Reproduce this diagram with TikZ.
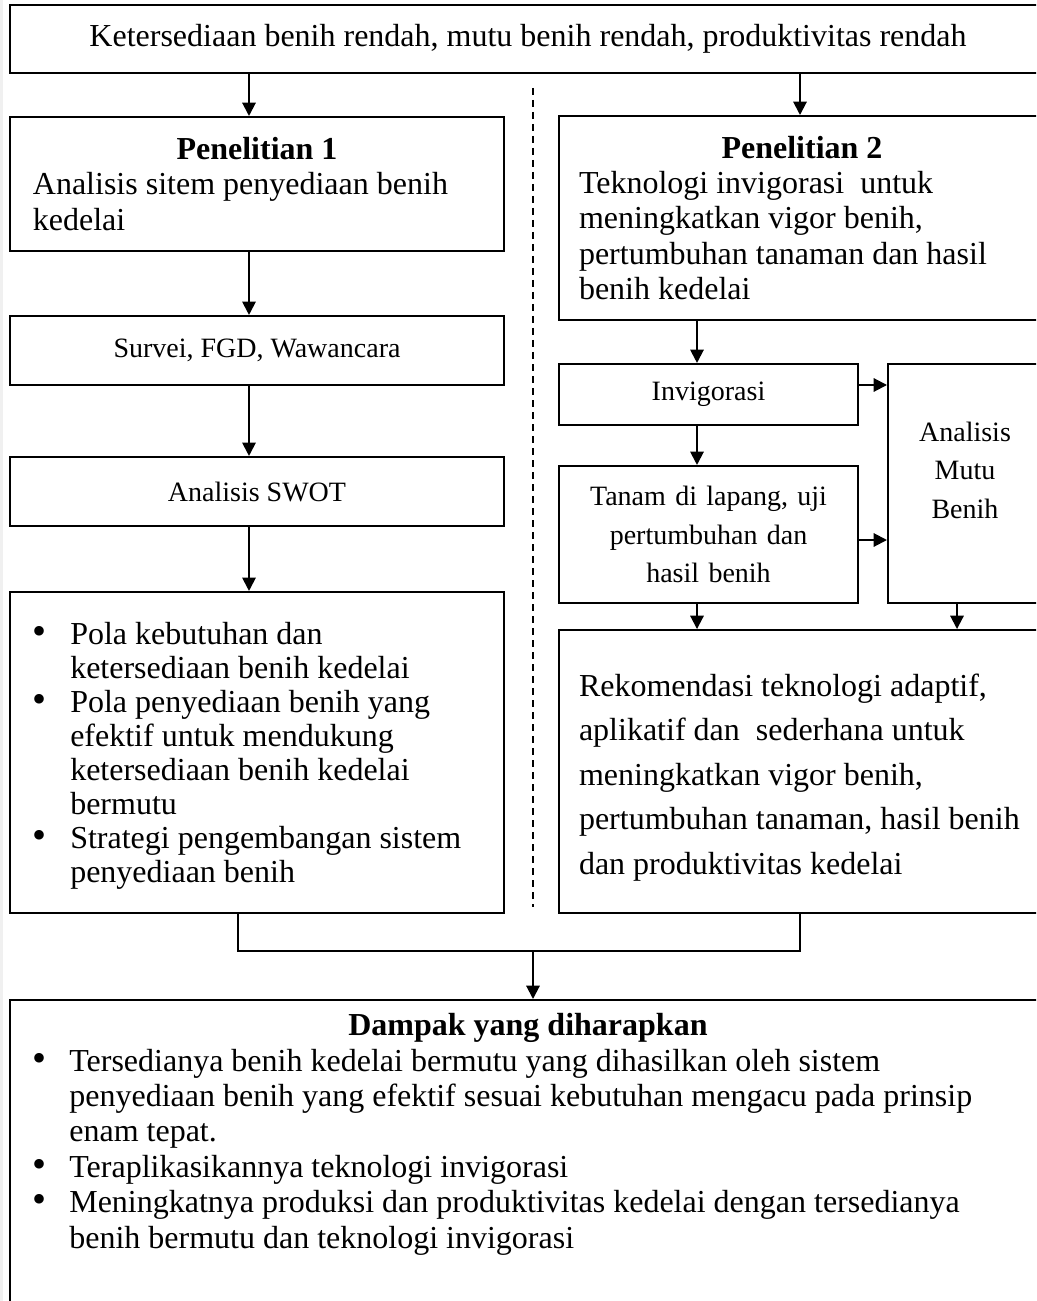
\documentclass[tikz,border=0pt]{standalone}
\usepackage{fontspec}
\setmainfont{Liberation Serif}
\usetikzlibrary{arrows.meta}
\newlength{\butirindent}
\setlength{\butirindent}{14pt}
\newcommand{\butir}{\par\noindent\hangindent=\butirindent\hangafter=1\makebox[\butirindent][l]{\scalebox{1.25}{\textbullet}}}
\begin{document}
\begin{tikzpicture}[x=0.375pt, y=-0.375pt, >={Triangle[length=5pt,width=5pt]}, line width=0.75pt,
  kotak/.style={draw, line width=0.75pt, inner ysep=2pt, font=\fontsize{12}{13.3}\selectfont},
  teks/.style={kotak, inner xsep=2pt, align=flush left},
  kecil/.style={kotak, font=\fontsize{10.5}{14.4}\selectfont, align=center}]
\useasboundingbox (0,0) rectangle (1036,1301);
\clip (0,0) rectangle (1036,1301);
\fill[gray!12] (0,0) rectangle (3,1301);
% masalah
\node[kotak, minimum width=388.5pt, minimum height=25.5pt] (masalah) at (528,39) {Ketersediaan benih rendah, mutu benih rendah, produktivitas rendah};
% penelitian 1
\node[teks, text width=181.25pt, minimum height=50.25pt] (riset1) at (257,184) {{\centering\textbf{Penelitian 1}\par}\leftskip=6.6pt Analisis sitem penyediaan benih\\kedelai\par};
\node[kecil, minimum width=185.25pt, minimum height=25.9pt] (survei) at (257,350.5) {Survei, FGD, Wawancara};
\node[kecil, minimum width=185.25pt, minimum height=25.9pt] (swot) at (257,491.5) {Analisis SWOT};
\node[teks, text width=181.25pt, minimum height=120.4pt, font=\fontsize{12}{12.75}\selectfont] (hasil1) at (257,752.5) {\leftskip=6.6pt \butir Pola kebutuhan dan\newline ketersediaan benih kedelai \butir Pola penyediaan benih yang\newline efektif untuk mendukung\newline ketersediaan benih kedelai\newline bermutu \butir Strategi pengembangan sistem\newline penyediaan benih\rule[-4.5pt]{0pt}{4.5pt}\par};
% penelitian 2
\node[teks, text width=178.25pt, minimum height=76.5pt] (riset2) at (802,218) {{\centering\textbf{Penelitian 2}\par}\leftskip=5.5pt Teknologi invigorasi\ \ untuk\\meningkatkan vigor benih,\\pertumbuhan tanaman dan hasil\\benih kedelai\par};
\node[kecil, minimum width=112.1pt, minimum height=22.9pt] (invigorasi) at (708.5,394.5) {Invigorasi};
\node[kecil, text width=104.1pt, inner xsep=4pt, minimum height=51.4pt] (tanam) at (708.5,534.5) {Tanam di lapang, uji\\pertumbuhan dan\\hasil benih};
\node[kecil, text width=49.75pt, inner xsep=4pt, minimum height=89.6pt] (mutu) at (965,483.5) {Analisis\\Mutu\\Benih\rule[-10pt]{0pt}{10pt}};
\node[teks, text width=178.25pt, minimum height=106.1pt, font=\fontsize{12}{16.7}\selectfont] (rekomendasi) at (802,771.5) {\leftskip=5.5pt \rule{0pt}{13pt}Rekomendasi teknologi adaptif,\\aplikatif dan\ \ sederhana untuk\\meningkatkan vigor benih,\\pertumbuhan tanaman, hasil benih\\dan produktivitas kedelai\par};
% dampak
\node[teks, anchor=north, text width=384.5pt, inner ysep=5pt] (dampak) at (528,999) {{\centering\textbf{Dampak yang diharapkan}\par}\leftskip=6.25pt \butir Tersedianya benih kedelai bermutu yang dihasilkan oleh sistem\newline penyediaan benih yang efektif sesuai kebutuhan mengacu pada prinsip\newline enam tepat. \butir Teraplikasikannya teknologi invigorasi \butir Meningkatnya produksi dan produktivitas kedelai dengan tersedianya\newline benih bermutu dan teknologi invigorasi\rule[-25pt]{0pt}{25pt}\par};
% panah
\coordinate (kiri) at (249,0);
\coordinate (kanan) at (800,0);
\coordinate (tengah) at (697,0);
\coordinate (bawah) at (957,0);
\coordinate (p1) at (0,385);
\coordinate (p2) at (0,540);
\draw[->] (masalah.south -| kiri) -- (riset1.north -| kiri);
\draw[->] (masalah.south -| kanan) -- (riset2.north -| kanan);
\draw[->] (riset1.south -| kiri) -- (survei.north -| kiri);
\draw[->] (survei.south -| kiri) -- (swot.north -| kiri);
\draw[->] (swot.south -| kiri) -- (hasil1.north -| kiri);
\draw[->] (riset2.south -| tengah) -- (invigorasi.north -| tengah);
\draw[->] (invigorasi.south -| tengah) -- (tanam.north -| tengah);
\draw[->] (invigorasi.east |- p1) -- (mutu.west |- p1);
\draw[->] (tanam.east |- p2) -- (mutu.west |- p2);
\draw[->] (tanam.south -| tengah) -- (rekomendasi.north -| tengah);
\draw[->] (mutu.south -| bawah) -- (rekomendasi.north -| bawah);
% gabung
\coordinate (gabungkiri) at (238,951);
\coordinate (gabungkanan) at (800,951);
\coordinate (gabung) at (533,951);
\draw (hasil1.south -| gabungkiri) -- (gabungkiri) -- (gabungkanan) -- (rekomendasi.south -| gabungkanan);
\draw[->] (gabung) -- (dampak.north -| gabung);
% garis pemisah
\coordinate (garisatas) at (533,88);
\coordinate (garisbawah) at (533,907);
\draw[line width=0.5pt, dash pattern=on 2.6pt off 1.9pt] (garisatas) -- (garisbawah);
\end{tikzpicture}
\end{document}
